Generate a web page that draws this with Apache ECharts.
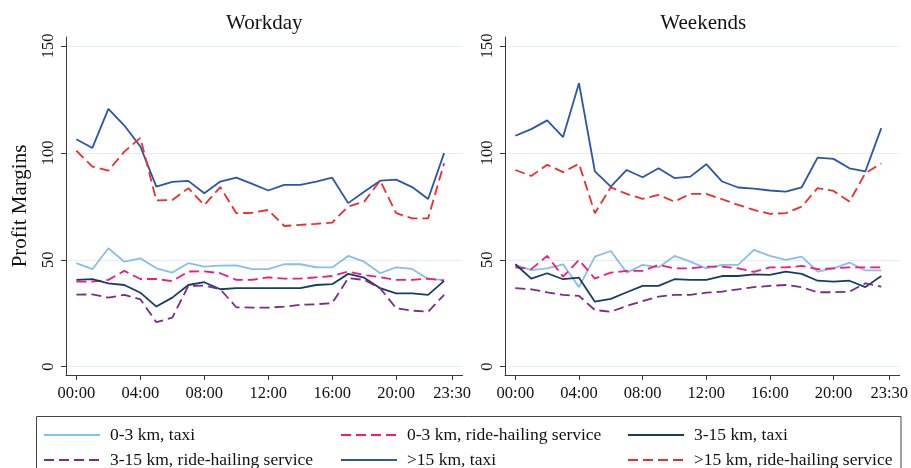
<!DOCTYPE html>
<html>
<head>
<meta charset="utf-8">
<script src="https://cdn.jsdelivr.net/npm/echarts@6/dist/echarts.min.js"></script>
<style>
  html, body { margin: 0; padding: 0; background: #fff; }
  #chart { width: 911px; height: 468px; }
</style>
</head>
<body>
<div id="chart"></div>
<script>
// Hour of day for each observation (00:00 ... 23:00)
const hours = [0,1,2,3,4,5,6,7,8,9,10,11,12,13,14,15,16,17,18,19,20,21,22,23];

// Axis ticks
const xTickHours = [0, 4, 8, 12, 16, 20, 23.5];
const xTickLabels = ['00:00', '04:00', '08:00', '12:00', '16:00', '20:00', '23:30'];
const yTicks = [0, 50, 100, 150];

const panelTitles = ['Workday', 'Weekends'];
const seriesNames = [
  '0-3 km, taxi',
  '0-3 km, ride-hailing service',
  '3-15 km, taxi',
  '3-15 km, ride-hailing service',
  '>15 km, taxi',
  '>15 km, ride-hailing service'
];

// Profit margins, workdays
const workdayTaxi03   = [48.4,45.6,55.4,49.1,50.7,46.0,44.0,48.4,46.8,47.3,47.4,45.6,45.6,47.9,47.9,46.5,46.4,51.8,49.1,43.7,46.4,45.7,41.0,40.6];
const workdayRide03   = [39.8,39.8,40.6,44.8,41.0,41.0,40.0,44.5,44.6,43.7,40.6,40.6,41.8,41.2,41.2,41.8,42.4,44.5,42.9,41.8,40.6,40.6,41.2,40.2];
const workdayTaxi315  = [40.6,40.9,39.0,38.2,34.6,28.1,32.3,38.2,39.5,36.2,36.7,36.7,36.7,36.7,36.7,38.2,38.6,43.4,41.6,36.7,34.3,34.3,33.6,40.1];
const workdayRide315  = [33.7,33.8,32.3,33.6,31.5,20.8,22.9,37.8,37.9,36.2,27.8,27.6,27.6,28.1,28.9,29.2,29.7,41.4,40.6,36.7,27.3,26.2,25.7,33.6];
const workdayTaxi15   = [106.4,102.3,120.6,112.8,103.0,84.2,86.4,86.9,81.1,86.6,88.4,85.5,82.4,85.0,85.0,86.6,88.4,76.5,81.8,87.0,87.5,84.0,78.4,99.9];
const workdayRide15   = [101.0,93.6,91.7,100.6,107.0,77.8,78.0,83.5,75.6,84.0,71.8,72.0,73.3,65.8,66.3,66.8,67.4,74.9,77.2,87.0,71.8,69.4,69.4,95.2];

// Profit margins, weekends
const weekendTaxi03   = [47.6,45.2,46.0,47.9,37.2,51.5,54.1,44.0,47.6,46.4,51.8,49.1,46.0,47.6,47.6,54.6,51.8,49.9,51.5,44.5,46.0,48.7,45.0,45.0];
const weekendRide03   = [46.5,45.6,51.8,42.1,49.9,41.2,44.0,44.8,44.8,47.6,46.0,46.0,46.8,46.8,46.0,44.3,46.4,46.4,47.1,45.6,46.0,46.4,46.4,46.4];
const weekendTaxi315  = [47.9,41.2,43.7,40.9,41.6,30.4,31.7,34.8,37.8,37.8,40.9,40.6,40.6,42.4,42.4,43.2,42.9,44.5,43.4,40.2,39.8,40.2,37.2,42.4];
const weekendRide315  = [36.7,36.2,34.8,33.6,33.1,26.5,25.7,28.4,30.7,32.8,33.6,33.6,34.6,35.1,36.2,37.2,37.8,38.2,37.2,34.8,34.8,35.1,39.0,37.4];
const weekendTaxi15   = [108.0,111.1,115.2,107.4,132.6,91.3,84.2,92.0,88.6,92.8,88.2,88.9,94.7,86.6,83.8,83.3,82.4,81.9,83.9,97.8,97.2,92.8,91.3,111.6];
const weekendRide15   = [92.0,89.2,94.4,91.0,94.9,71.8,83.9,80.8,78.5,80.3,77.2,80.8,80.8,78.3,75.7,73.3,71.5,71.8,74.9,83.5,82.2,77.2,90.5,95.0];

const panelData = [
  [workdayTaxi03, workdayRide03, workdayTaxi315, workdayRide315, workdayTaxi15, workdayRide15],
  [weekendTaxi03, weekendRide03, weekendTaxi315, weekendRide315, weekendTaxi15, weekendRide15]
];

// Line styles per series
const lineColors = ['#86bfe9', '#f2197f', '#163d63', '#7b2b88', '#2b55aa', '#f42a2a'];
const lineTypes  = ['solid', [10, 5], 'solid', [10, 5], 'solid', [10, 5]];

const FONT = '"Liberation Serif", "Times New Roman", serif';
const AXIS_COLOR = '#3a3a3a';
const TEXT_COLOR = '#111';

// Panel geometry
const grids = [
  { left: 66, right: 448.5, top: 37, bottom: 93 },
  { left: 505, right: 9.5, top: 37, bottom: 93 }
];

const chart = echarts.init(document.getElementById('chart'), null, { renderer: 'canvas' });

const option = {
  backgroundColor: '#fff',
  animation: false,
  textStyle: { fontFamily: FONT },
  title: panelTitles.map((t, i) => ({
    text: t,
    left: grids[i].left + (911 - grids[i].left - grids[i].right) / 2,
    top: 13,
    textAlign: 'center',
    padding: 0,
    textStyle: { fontFamily: FONT, fontSize: 21, fontWeight: 'normal', color: TEXT_COLOR }
  })),
  grid: grids.map(g => Object.assign({ containLabel: false }, g)),
  xAxis: grids.map((g, i) => ({
    type: 'value',
    gridIndex: i,
    min: -0.65,
    max: 24.15,
    axisLine: { show: true, onZero: false, lineStyle: { color: AXIS_COLOR, width: 1 } },
    axisTick: { show: true, length: 5, customValues: xTickHours, lineStyle: { color: AXIS_COLOR } },
    axisLabel: {
      customValues: xTickHours,
      margin: 10,
      fontFamily: FONT,
      fontSize: 16.5,
      color: TEXT_COLOR,
      formatter: v => xTickLabels[xTickHours.indexOf(v)]
    },
    splitLine: { show: false }
  })),
  yAxis: grids.map((g, i) => ({
    type: 'value',
    gridIndex: i,
    min: -3.9,
    max: 154.2,
    axisLine: { show: true, onZero: false, lineStyle: { color: AXIS_COLOR, width: 1 } },
    axisTick: { show: true, length: 5, customValues: yTicks, lineStyle: { color: AXIS_COLOR } },
    axisLabel: {
      customValues: yTicks,
      rotate: 90,
      margin: 9,
      fontFamily: FONT,
      fontSize: 16.5,
      color: TEXT_COLOR
    },
    splitLine: { show: true, lineStyle: { color: '#e4edf3', width: 1 } },
    name: i === 0 ? 'Profit Margins' : '',
    nameLocation: 'middle',
    nameGap: 35,
    nameTextStyle: { fontFamily: FONT, fontSize: 21, color: TEXT_COLOR }
  })),
  legend: seriesNames.map((name, k) => {
    const colX = [43, 340, 627];
    const rowY = [435, 460];
    return {
      data: [name],
      left: colX[k % 3],
      top: rowY[Math.floor(k / 3)] - 9,
      padding: 0,
      itemWidth: 56,
      itemHeight: 14,
      selectedMode: false,
      // line-only keys: hide the marker drawn in the middle of the key
      itemStyle: { color: 'transparent', borderColor: 'transparent', borderWidth: 0, opacity: 0 },
      textStyle: { fontFamily: FONT, fontSize: 17.5, color: TEXT_COLOR, padding: [0, 0, 0, 5] }
    };
  }),
  graphic: [{
    type: 'rect',
    silent: true,
    shape: { x: 36.5, y: 416.5, width: 864.5, height: 70 },
    style: { fill: 'none', stroke: '#444', lineWidth: 1 }
  }],
  series: []
};

panelData.forEach((set, p) => {
  set.forEach((vals, s) => {
    option.series.push({
      name: seriesNames[s],
      type: 'line',
      xAxisIndex: p,
      yAxisIndex: p,
      symbol: 'none',
      smooth: false,
      data: hours.map((h, j) => [h, vals[j]]),
      lineStyle: { color: lineColors[s], width: 1.8, type: lineTypes[s] },
      itemStyle: { color: lineColors[s] },
      z: 2 + s
    });
  });
});

chart.setOption(option);
</script>
</body>
</html>
